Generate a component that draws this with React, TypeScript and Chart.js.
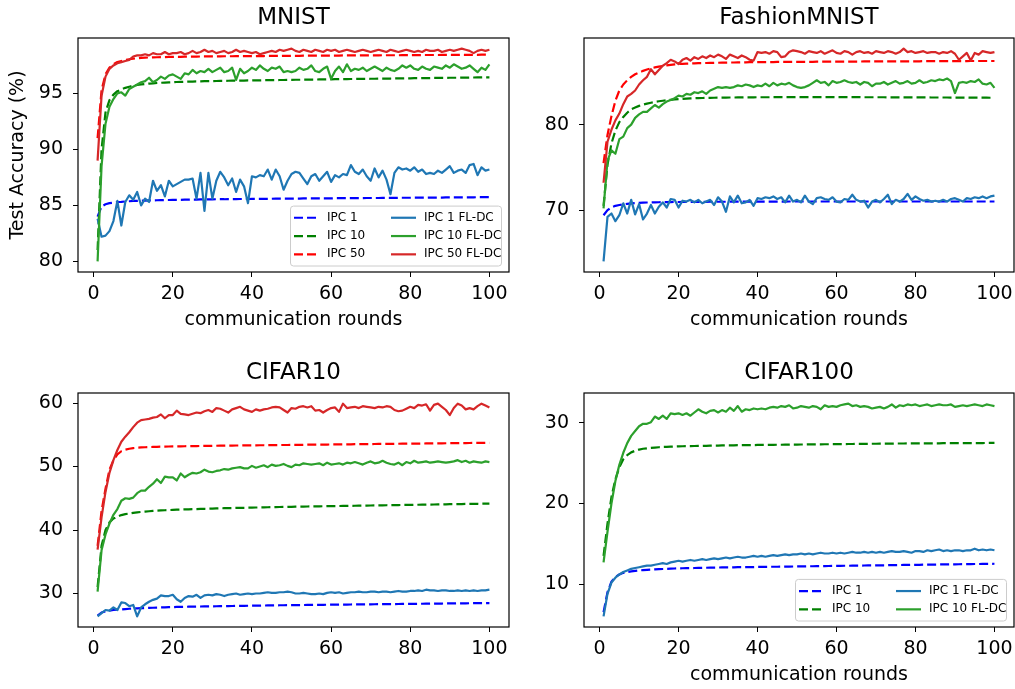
import React, { useEffect, useRef } from "react";
import { Chart, registerables } from "chart.js";

Chart.register(...registerables);

// ---------------- data ----------------
const ROUNDS: number[] = Array.from({ length: 100 }, (_, i) => i + 1);
const X_TICKS = [0, 20, 40, 60, 80, 100];

const MNIST_Y_TICKS = [80, 85, 90, 95];
const FMNIST_Y_TICKS = [70, 80];
const CIFAR10_Y_TICKS = [30, 40, 50, 60];
const CIFAR100_Y_TICKS = [10, 20, 30];

const LABEL_IPC1 = "IPC 1";
const LABEL_IPC10 = "IPC 10";
const LABEL_IPC50 = "IPC 50";
const LABEL_FL1 = "IPC 1 FL-DC";
const LABEL_FL10 = "IPC 10 FL-DC";
const LABEL_FL50 = "IPC 50 FL-DC";

// MNIST
const MNIST_IPC1 = [
  84.0, 84.9, 85.1, 85.2, 85.25, 85.3, 85.32, 85.35, 85.37, 85.4,
  85.4, 85.42, 85.43, 85.44, 85.45, 85.46, 85.47, 85.48, 85.48, 85.49,
  85.5, 85.5, 85.51, 85.51, 85.52, 85.52, 85.53, 85.53, 85.54, 85.54,
  85.55, 85.55, 85.55, 85.56, 85.56, 85.56, 85.57, 85.57, 85.57, 85.58,
  85.58, 85.58, 85.59, 85.59, 85.59, 85.6, 85.6, 85.6, 85.6, 85.61,
  85.61, 85.61, 85.62, 85.62, 85.62, 85.62, 85.63, 85.63, 85.63, 85.63,
  85.64, 85.64, 85.64, 85.64, 85.65, 85.65, 85.65, 85.65, 85.66, 85.66,
  85.66, 85.66, 85.67, 85.67, 85.67, 85.67, 85.68, 85.68, 85.68, 85.68,
  85.69, 85.69, 85.69, 85.69, 85.7, 85.7, 85.7, 85.7, 85.71, 85.71,
  85.71, 85.71, 85.72, 85.72, 85.72, 85.72, 85.73, 85.73, 85.73, 85.73,
];
const MNIST_IPC10 = [
  81.0, 90.0, 93.3, 94.4, 94.9, 95.2, 95.35, 95.5, 95.6, 95.68,
  95.75, 95.8, 95.84, 95.88, 95.9, 95.93, 95.95, 95.97, 95.99, 96.0,
  96.02, 96.03, 96.04, 96.05, 96.06, 96.07, 96.08, 96.09, 96.1, 96.1,
  96.11, 96.12, 96.12, 96.13, 96.14, 96.14, 96.15, 96.15, 96.16, 96.16,
  96.17, 96.17, 96.18, 96.18, 96.19, 96.19, 96.2, 96.2, 96.21, 96.21,
  96.22, 96.22, 96.23, 96.23, 96.24, 96.24, 96.25, 96.25, 96.26, 96.26,
  96.27, 96.27, 96.28, 96.28, 96.29, 96.29, 96.3, 96.3, 96.3, 96.31,
  96.31, 96.32, 96.32, 96.33, 96.33, 96.34, 96.34, 96.34, 96.35, 96.35,
  96.36, 96.36, 96.37, 96.37, 96.37, 96.38, 96.38, 96.39, 96.39, 96.4,
  96.4, 96.4, 96.41, 96.41, 96.42, 96.42, 96.43, 96.43, 96.44, 96.44,
];
const MNIST_IPC50 = [
  91.0, 95.3, 96.7, 97.3, 97.6, 97.8, 97.9, 98.0, 98.05, 98.1,
  98.14, 98.17, 98.2, 98.21, 98.22, 98.23, 98.24, 98.25, 98.26, 98.26,
  98.27, 98.27, 98.28, 98.28, 98.29, 98.29, 98.3, 98.3, 98.3, 98.31,
  98.31, 98.31, 98.32, 98.32, 98.32, 98.33, 98.33, 98.33, 98.33, 98.34,
  98.34, 98.34, 98.34, 98.35, 98.35, 98.35, 98.35, 98.36, 98.36, 98.36,
  98.36, 98.36, 98.37, 98.37, 98.37, 98.37, 98.37, 98.38, 98.38, 98.38,
  98.38, 98.38, 98.39, 98.39, 98.39, 98.39, 98.39, 98.4, 98.4, 98.4,
  98.4, 98.4, 98.41, 98.41, 98.41, 98.41, 98.41, 98.42, 98.42, 98.42,
  98.42, 98.42, 98.43, 98.43, 98.43, 98.43, 98.43, 98.44, 98.44, 98.44,
  98.44, 98.44, 98.45, 98.45, 98.45, 98.45, 98.45, 98.46, 98.46, 98.46,
];
const MNIST_FL1 = [
  83.8, 82.2, 82.3, 82.7, 83.6, 85.4, 83.2, 85.3, 85.9, 85.5,
  86.2, 85.0, 85.6, 85.3, 87.2, 86.3, 86.8, 85.8, 87.2, 86.7,
  86.9, 87.1, 87.3, 87.3, 87.4, 85.6, 87.9, 84.5, 87.9, 85.6,
  87.2, 88.0, 87.5, 86.8, 87.4, 86.2, 87.3, 86.7, 85.2, 87.6,
  87.5, 87.7, 87.6, 88.2, 87.3, 88.2, 87.6, 86.4, 87.2, 87.8,
  88.0, 87.9, 87.4, 86.9, 87.6, 87.8, 87.2, 87.6, 88.0, 87.1,
  87.7, 87.5, 87.8, 87.7, 88.6, 88.0, 87.8, 88.2, 87.6, 87.2,
  88.3, 87.5, 88.1, 87.3, 86.0, 87.9, 88.4, 88.2, 88.3, 88.1,
  88.4, 88.0, 88.2, 87.8, 87.9, 87.8, 88.1, 87.9, 88.2, 88.5,
  87.9, 88.1, 88.2, 87.9, 88.6, 88.7, 87.7, 88.4, 88.1, 88.2,
];
const MNIST_FL10 = [
  80.0, 88.5, 92.3, 93.8, 94.5, 95.0, 95.1, 94.8, 95.4, 95.6,
  95.8, 96.0, 96.1, 96.4, 96.0, 96.2, 96.5, 96.3, 96.6, 96.7,
  96.5, 96.3, 96.8, 96.7, 97.1, 96.8, 97.0, 96.9, 97.2, 96.9,
  97.1, 97.3, 96.9, 97.0, 97.3, 96.2, 97.2, 96.8, 97.0, 97.3,
  97.1, 97.5, 97.2, 97.0, 97.3, 97.2, 97.4, 96.9, 97.0, 96.9,
  97.0, 97.3, 97.1, 97.2, 97.5, 97.0, 96.9, 97.2, 97.4, 96.3,
  97.0, 97.4, 96.9, 97.6, 97.0, 97.2, 97.1, 97.3, 97.0, 97.2,
  97.4, 97.2, 97.0, 97.3, 97.1, 97.0, 97.2, 97.5, 97.3, 97.5,
  97.2, 97.1, 97.4, 97.2, 97.1, 97.4, 97.3, 97.2, 97.5, 97.3,
  97.6, 97.4, 97.2, 97.3, 97.5, 97.2, 96.9, 97.3, 97.1, 97.6,
];
const MNIST_FL50 = [
  89.0, 94.8, 96.5, 97.2, 97.5, 97.7, 97.8, 97.9, 98.0, 98.3,
  98.4, 98.4, 98.5, 98.4, 98.6, 98.5, 98.5, 98.7, 98.5, 98.6,
  98.6, 98.7, 98.5, 98.6, 98.8, 98.6, 98.7, 98.9, 98.7, 98.8,
  98.6, 98.7, 98.8, 98.6, 98.7, 98.9, 98.7, 98.8, 98.7, 98.6,
  98.7, 98.5, 98.6, 98.7, 98.8, 98.7, 98.9, 98.8, 98.9, 99.0,
  98.8, 98.7, 98.9, 98.8, 98.7, 98.9, 98.8, 98.7, 98.9, 98.8,
  98.9, 98.7, 98.8, 98.9, 98.8, 98.7, 98.8, 98.9, 98.8, 98.7,
  98.8, 98.9, 98.8, 98.7, 98.9, 98.8, 98.7, 98.8, 98.9, 98.8,
  98.7, 98.8, 98.7, 98.9, 98.8, 98.8, 98.9, 98.7, 98.8, 98.9,
  98.8, 98.9, 99.0, 98.9, 98.8, 98.6, 98.8, 98.9, 98.8, 98.9,
];

// FashionMNIST
const FMNIST_IPC1 = [
  69.4, 70.0, 70.3, 70.5, 70.6, 70.68, 70.74, 70.78, 70.82, 70.85,
  70.87, 70.89, 70.9, 70.91, 70.92, 70.93, 70.94, 70.94, 70.95, 70.95,
  70.96, 70.96, 70.96, 70.97, 70.97, 70.97, 70.97, 70.98, 70.98, 70.98,
  70.98, 70.98, 70.99, 70.99, 70.99, 70.99, 70.99, 71.0, 71.0, 71.0,
  71.0, 71.0, 71.0, 71.0, 71.0, 71.0, 71.0, 71.01, 71.01, 71.01,
  71.01, 71.01, 71.01, 71.01, 71.01, 71.01, 71.01, 71.01, 71.01, 71.01,
  71.01, 71.01, 71.01, 71.01, 71.01, 71.01, 71.01, 71.01, 71.01, 71.01,
  71.01, 71.01, 71.01, 71.01, 71.01, 71.01, 71.01, 71.01, 71.01, 71.01,
  71.01, 71.01, 71.01, 71.01, 71.01, 71.01, 71.01, 71.01, 71.01, 71.01,
  71.01, 71.01, 71.01, 71.01, 71.01, 71.01, 71.01, 71.01, 71.01, 71.01,
];
const FMNIST_IPC10 = [
  70.5, 75.3, 77.8, 79.3, 80.3, 80.9, 81.4, 81.8, 82.0, 82.2,
  82.35, 82.47, 82.57, 82.66, 82.74, 82.8, 82.86, 82.91, 82.95, 82.99,
  83.02, 83.05, 83.07, 83.09, 83.11, 83.12, 83.13, 83.14, 83.15, 83.16,
  83.17, 83.17, 83.18, 83.18, 83.19, 83.19, 83.2, 83.2, 83.2, 83.21,
  83.21, 83.21, 83.21, 83.22, 83.22, 83.22, 83.22, 83.22, 83.22, 83.23,
  83.23, 83.23, 83.23, 83.23, 83.23, 83.23, 83.23, 83.23, 83.23, 83.22,
  83.22, 83.22, 83.22, 83.22, 83.22, 83.22, 83.21, 83.21, 83.21, 83.21,
  83.21, 83.21, 83.2, 83.2, 83.2, 83.2, 83.2, 83.2, 83.19, 83.19,
  83.19, 83.19, 83.19, 83.18, 83.18, 83.18, 83.18, 83.18, 83.17, 83.17,
  83.17, 83.17, 83.17, 83.16, 83.16, 83.16, 83.16, 83.16, 83.15, 83.15,
];
const FMNIST_IPC50 = [
  75.5, 78.8, 81.0, 82.8, 84.0, 84.7, 85.2, 85.6, 85.9, 86.1,
  86.3, 86.45, 86.6, 86.7, 86.8, 86.88, 86.95, 87.0, 87.05, 87.1,
  87.12, 87.14, 87.16, 87.18, 87.2, 87.21, 87.22, 87.23, 87.24, 87.25,
  87.26, 87.27, 87.28, 87.28, 87.29, 87.3, 87.3, 87.31, 87.31, 87.32,
  87.32, 87.33, 87.33, 87.33, 87.34, 87.34, 87.34, 87.35, 87.35, 87.35,
  87.36, 87.36, 87.36, 87.36, 87.37, 87.37, 87.37, 87.37, 87.38, 87.38,
  87.38, 87.38, 87.39, 87.39, 87.39, 87.39, 87.4, 87.4, 87.4, 87.4,
  87.4, 87.41, 87.41, 87.41, 87.41, 87.41, 87.42, 87.42, 87.42, 87.42,
  87.42, 87.43, 87.43, 87.43, 87.43, 87.43, 87.43, 87.44, 87.44, 87.44,
  87.44, 87.44, 87.44, 87.45, 87.45, 87.45, 87.45, 87.45, 87.45, 87.45,
];
const FMNIST_FL1 = [
  64.0, 69.2, 69.6, 68.7, 69.4, 70.8, 69.6, 71.2, 69.5, 70.7,
  68.9, 69.6, 70.6, 69.6, 70.4, 70.9, 70.3, 71.3, 71.2, 70.3,
  71.1, 71.0, 71.2, 70.9, 71.2, 70.8, 71.0, 71.2, 70.6, 71.5,
  71.0, 69.8, 71.6, 70.9, 71.7, 70.8, 70.9, 71.2, 70.5, 71.4,
  71.3, 71.5, 71.4, 71.6, 71.3, 71.5, 70.9, 71.7, 71.0, 71.2,
  70.9, 71.7, 71.0, 70.7, 71.4, 71.5, 71.3, 71.2, 71.5, 71.0,
  70.9, 71.3, 71.2, 71.8, 71.2, 71.0, 71.1, 70.3, 71.0, 71.2,
  70.9, 71.3, 71.8, 70.7, 71.2, 71.0, 71.3, 71.9, 71.2, 71.6,
  71.3, 71.1, 71.2, 71.0, 71.1, 71.0, 71.2, 71.0, 71.3, 71.4,
  71.2, 71.0, 71.4, 71.3, 71.5, 71.4, 71.6, 71.4, 71.6, 71.7,
];
const FMNIST_FL10 = [
  70.2, 75.8, 77.0, 76.6, 78.3, 78.6, 79.6, 80.0, 80.8, 81.2,
  81.5, 81.5, 81.9, 82.3, 82.0, 82.4, 82.7, 82.9, 83.1, 83.4,
  83.3, 83.6, 83.5, 83.8, 83.7, 83.9, 83.6, 84.0, 84.2, 84.4,
  84.3, 84.4, 84.3, 84.4, 84.6, 84.5, 84.7, 84.6, 84.4, 84.6,
  84.5, 84.8, 84.5, 84.9, 84.6, 84.8, 84.7, 84.9, 84.6, 84.4,
  84.3, 84.4, 84.6, 84.9, 85.2, 84.9, 85.0, 84.6, 85.1, 84.9,
  85.0, 85.2, 85.0, 84.9, 85.0, 84.7, 85.0, 84.9, 84.5, 84.8,
  84.8, 85.0, 84.7, 84.9, 85.1, 84.8, 84.9, 85.1, 84.8, 84.9,
  85.2, 84.9, 85.0, 85.2, 85.1, 85.3, 85.2, 85.4, 85.1, 83.7,
  84.9, 85.0, 84.9, 85.1, 85.0, 85.3, 84.8, 84.7, 84.9, 84.3,
];
const FMNIST_FL50 = [
  73.2, 78.0, 79.4, 80.5, 81.3, 82.4, 83.3, 83.6, 84.0, 84.7,
  85.2, 85.6, 86.5, 85.9, 86.4, 86.9, 87.2, 87.6, 87.4, 87.1,
  87.6, 87.8, 87.5, 87.9, 87.7, 88.0, 87.8, 88.1, 87.9, 88.2,
  88.0, 87.7, 88.2, 88.0, 87.8, 88.1, 87.9, 87.6, 87.5, 88.5,
  88.4, 88.5, 88.3, 88.6, 88.5, 87.9, 88.0, 88.5, 88.7, 88.6,
  88.5, 88.3, 88.6, 88.5, 88.4, 88.6, 88.3, 88.5, 88.7, 88.4,
  88.3, 88.6, 88.5, 88.2, 88.5, 88.6, 88.4, 88.5, 88.3, 88.6,
  88.5, 88.4, 88.6, 88.5, 88.3, 88.5, 88.9, 88.5, 88.6, 88.4,
  88.5, 88.6, 88.4, 88.5, 88.5, 88.3, 88.5, 88.4, 88.6, 88.3,
  87.6, 88.0, 88.4, 87.5, 88.4, 88.2, 88.6, 88.5, 88.4, 88.5,
];

// CIFAR10
const CIFAR10_IPC1 = [
  26.5, 27.0, 27.2, 27.3, 27.4, 27.45, 27.5, 27.55, 27.6, 27.63,
  27.66, 27.69, 27.72, 27.74, 27.76, 27.78, 27.8, 27.82, 27.84, 27.86,
  27.88, 27.9, 27.91, 27.92, 27.93, 27.94, 27.95, 27.96, 27.97, 27.98,
  27.99, 28.0, 28.01, 28.02, 28.03, 28.04, 28.05, 28.06, 28.07, 28.08,
  28.09, 28.1, 28.11, 28.12, 28.13, 28.14, 28.15, 28.15, 28.16, 28.17,
  28.18, 28.18, 28.19, 28.2, 28.2, 28.21, 28.22, 28.22, 28.23, 28.24,
  28.24, 28.25, 28.26, 28.26, 28.27, 28.28, 28.28, 28.29, 28.3, 28.3,
  28.31, 28.32, 28.32, 28.33, 28.34, 28.34, 28.35, 28.36, 28.36, 28.37,
  28.38, 28.38, 28.39, 28.4, 28.4, 28.41, 28.42, 28.42, 28.43, 28.44,
  28.44, 28.45, 28.46, 28.46, 28.47, 28.48, 28.48, 28.49, 28.5, 28.5,
];
const CIFAR10_IPC10 = [
  31.0, 37.5, 40.0, 41.2, 41.8, 42.1, 42.35, 42.5, 42.6, 42.7,
  42.78, 42.85, 42.9, 42.95, 43.0, 43.04, 43.08, 43.11, 43.14, 43.17,
  43.2, 43.22, 43.24, 43.26, 43.28, 43.3, 43.32, 43.34, 43.36, 43.38,
  43.4, 43.42, 43.43, 43.45, 43.46, 43.48, 43.49, 43.5, 43.52, 43.53,
  43.54, 43.56, 43.57, 43.58, 43.6, 43.61, 43.62, 43.63, 43.64, 43.65,
  43.67, 43.68, 43.69, 43.7, 43.71, 43.72, 43.73, 43.74, 43.75, 43.76,
  43.77, 43.78, 43.79, 43.8, 43.81, 43.82, 43.83, 43.84, 43.85, 43.86,
  43.87, 43.88, 43.89, 43.9, 43.91, 43.92, 43.93, 43.94, 43.95, 43.96,
  43.97, 43.98, 43.99, 44.0, 44.01, 44.02, 44.03, 44.04, 44.05, 44.06,
  44.07, 44.08, 44.09, 44.1, 44.11, 44.12, 44.13, 44.14, 44.15, 44.16,
];
const CIFAR10_IPC50 = [
  37.5, 43.0, 46.5, 49.5, 51.0, 51.9, 52.4, 52.65, 52.8, 52.9,
  52.96, 53.0, 53.03, 53.06, 53.08, 53.1, 53.12, 53.13, 53.15, 53.16,
  53.17, 53.18, 53.19, 53.2, 53.21, 53.22, 53.23, 53.24, 53.25, 53.26,
  53.27, 53.28, 53.28, 53.29, 53.3, 53.31, 53.31, 53.32, 53.33, 53.33,
  53.34, 53.35, 53.35, 53.36, 53.37, 53.37, 53.38, 53.39, 53.39, 53.4,
  53.41, 53.41, 53.42, 53.43, 53.43, 53.44, 53.45, 53.45, 53.46, 53.47,
  53.47, 53.48, 53.49, 53.49, 53.5, 53.51, 53.51, 53.52, 53.53, 53.53,
  53.54, 53.55, 53.55, 53.56, 53.57, 53.57, 53.58, 53.59, 53.59, 53.6,
  53.61, 53.61, 53.62, 53.63, 53.63, 53.64, 53.65, 53.65, 53.66, 53.67,
  53.67, 53.68, 53.69, 53.69, 53.7, 53.71, 53.71, 53.72, 53.73, 53.73,
];
const CIFAR10_FL1 = [
  26.4, 26.9, 27.4, 27.3, 27.8, 27.4, 28.6, 28.5, 28.0, 28.2,
  26.4, 27.8, 28.3, 28.7, 29.0, 29.2, 29.7, 29.6, 29.6, 29.8,
  29.1, 28.7, 29.3, 29.6, 29.5, 29.8, 29.3, 29.7, 29.8, 29.7,
  29.9, 29.8, 29.6, 29.8, 29.9, 30.0, 29.8, 29.9, 30.0, 29.9,
  30.0, 30.0, 30.1, 30.2, 30.1, 30.1, 30.2, 30.2, 30.3, 30.2,
  30.0, 30.0, 30.1, 30.0, 29.9, 29.9, 30.0, 29.9, 30.1, 30.2,
  30.1, 30.2, 30.0, 30.1, 30.2, 30.2, 30.3, 30.2, 30.2, 30.3,
  30.3, 30.2, 30.3, 30.3, 30.2, 30.3, 30.4, 30.3, 30.3, 30.4,
  30.4, 30.5, 30.4, 30.6, 30.5, 30.5, 30.4, 30.5, 30.5, 30.4,
  30.4, 30.5, 30.4, 30.5, 30.4, 30.5, 30.4, 30.5, 30.5, 30.6,
];
const CIFAR10_FL10 = [
  30.3, 36.8, 39.3, 41.0, 42.4, 43.3, 44.6, 45.0, 44.9, 45.1,
  45.8, 46.2, 46.2, 46.8, 47.3, 48.0, 47.4, 48.4, 48.3, 48.3,
  47.8, 48.9, 48.3, 48.7, 49.0, 48.9, 49.1, 49.5, 49.2, 49.1,
  49.3, 49.4, 49.6, 49.5, 49.7, 49.8, 49.9, 49.7, 49.7, 50.1,
  49.8, 50.0, 50.2, 49.9, 50.3, 50.1, 50.2, 50.4, 50.1, 49.9,
  50.3, 50.2, 50.5, 50.4, 50.3, 50.4, 50.5, 50.2, 50.6, 50.3,
  50.4, 50.5, 50.3, 50.6, 50.5, 50.7, 50.5, 50.3, 50.6, 50.8,
  50.5, 50.6, 50.9, 50.6, 50.4, 50.3, 50.6, 50.2, 50.7, 50.5,
  50.9, 50.6, 50.7, 50.8, 50.6, 50.7, 50.8, 50.7, 50.6, 50.7,
  50.8, 51.0, 50.7, 50.9, 50.6, 50.8, 50.7, 50.6, 50.8, 50.7,
];
const CIFAR10_FL50 = [
  36.9, 42.0, 46.0, 49.0, 51.0, 52.6, 53.9, 54.7, 55.4, 56.2,
  56.9, 57.3, 57.4, 57.5, 57.7, 57.8, 58.2, 57.6, 58.1, 58.1,
  58.8, 58.3, 58.2, 58.1, 58.3, 58.5, 58.4, 58.7, 58.9, 58.6,
  59.2, 59.1, 58.8, 58.5, 59.0, 59.2, 59.4, 59.0, 58.8, 58.6,
  59.0, 58.8, 59.0, 59.1, 59.3, 59.4, 59.3, 58.9, 58.5, 59.2,
  59.1, 59.4, 59.5, 59.3, 59.5, 58.8, 58.9, 58.5, 58.9, 59.2,
  59.3, 58.6, 59.9, 59.2, 59.3, 59.4, 59.2, 59.5, 59.4, 59.3,
  59.2, 59.4, 59.3, 59.5, 59.4, 58.9, 58.7, 58.8, 59.1, 59.4,
  59.2, 59.7, 59.6, 59.8, 58.8, 59.7, 59.9, 59.4, 58.9, 58.1,
  59.2, 59.9, 59.6, 59.0, 59.2, 59.0, 59.5, 59.9, 59.6, 59.3,
];

// CIFAR100
const CIFAR100_IPC1 = [
  6.5, 9.0, 10.3, 10.9, 11.2, 11.4, 11.5, 11.58, 11.64, 11.7,
  11.74, 11.78, 11.81, 11.84, 11.86, 11.88, 11.9, 11.92, 11.94, 11.96,
  11.97, 11.98, 11.99, 12.0, 12.01, 12.02, 12.03, 12.04, 12.05, 12.06,
  12.07, 12.08, 12.08, 12.09, 12.1, 12.1, 12.11, 12.12, 12.12, 12.13,
  12.14, 12.14, 12.15, 12.16, 12.16, 12.17, 12.18, 12.18, 12.19, 12.2,
  12.2, 12.21, 12.22, 12.22, 12.23, 12.24, 12.24, 12.25, 12.26, 12.26,
  12.27, 12.28, 12.28, 12.29, 12.3, 12.3, 12.31, 12.32, 12.32, 12.33,
  12.34, 12.34, 12.35, 12.36, 12.36, 12.37, 12.38, 12.38, 12.39, 12.4,
  12.4, 12.41, 12.42, 12.42, 12.43, 12.44, 12.44, 12.45, 12.46, 12.46,
  12.47, 12.48, 12.48, 12.49, 12.5, 12.5, 12.51, 12.52, 12.52, 12.53,
];
const CIFAR100_IPC10 = [
  13.5, 17.5, 20.8, 23.0, 24.5, 25.5, 26.0, 26.35, 26.55, 26.7,
  26.8, 26.86, 26.91, 26.95, 26.99, 27.02, 27.04, 27.06, 27.08, 27.1,
  27.11, 27.12, 27.13, 27.14, 27.15, 27.16, 27.17, 27.18, 27.19, 27.2,
  27.21, 27.22, 27.22, 27.23, 27.24, 27.24, 27.25, 27.26, 27.26, 27.27,
  27.28, 27.28, 27.29, 27.29, 27.3, 27.3, 27.31, 27.31, 27.32, 27.32,
  27.33, 27.33, 27.34, 27.34, 27.35, 27.35, 27.36, 27.36, 27.37, 27.37,
  27.38, 27.38, 27.39, 27.39, 27.4, 27.4, 27.41, 27.41, 27.42, 27.42,
  27.43, 27.43, 27.44, 27.44, 27.45, 27.45, 27.45, 27.46, 27.46, 27.46,
  27.47, 27.47, 27.47, 27.48, 27.48, 27.48, 27.49, 27.49, 27.49, 27.5,
  27.5, 27.5, 27.5, 27.51, 27.51, 27.51, 27.51, 27.52, 27.52, 27.52,
];
const CIFAR100_FL1 = [
  6.0, 8.8, 10.2, 10.8, 11.2, 11.5, 11.7, 11.9, 12.0, 12.1,
  12.2, 12.3, 12.3, 12.4, 12.5, 12.6, 12.5, 12.7, 12.8, 12.9,
  12.8, 12.9, 13.0, 12.9, 13.0, 13.1, 13.0, 13.1, 13.2, 13.1,
  13.2, 13.3, 13.2, 13.3, 13.4, 13.3, 13.3, 13.4, 13.5, 13.4,
  13.5, 13.4, 13.5, 13.6, 13.5, 13.6, 13.7, 13.6, 13.7, 13.7,
  13.8, 13.7, 13.8, 13.7, 13.8, 13.9, 13.8, 13.8, 13.9, 13.8,
  13.9, 13.8, 13.9, 14.0, 13.9, 13.9, 14.0, 13.9, 14.0, 13.9,
  14.0, 13.9, 14.0, 14.1, 14.0, 14.0, 14.1, 14.0, 13.9, 14.1,
  14.1, 14.0, 14.2, 14.1, 14.2, 14.3, 14.1, 14.2, 14.1, 14.2,
  14.2, 14.1, 14.2, 14.2, 14.4, 14.2, 14.3, 14.2, 14.3, 14.2,
];
const CIFAR100_FL10 = [
  12.7, 16.5, 20.0, 22.8, 24.8, 26.3, 27.5, 28.4, 29.0, 29.6,
  29.9, 29.9, 30.1, 30.8, 30.5, 30.9, 30.5, 31.2, 31.1, 31.2,
  31.0, 31.2, 30.9, 31.3, 31.7, 31.4, 31.2, 31.5, 31.6, 31.3,
  31.6, 31.4, 31.9, 31.5, 32.1, 31.4, 31.7, 31.6, 31.8, 31.7,
  31.8, 31.7, 31.9, 32.0, 31.9, 32.1, 32.0, 32.2, 31.8, 31.9,
  32.1, 32.0, 31.9, 32.1, 32.0, 31.7, 32.2, 32.0, 32.1, 32.0,
  32.2, 32.3, 32.4, 32.1, 32.2, 32.0, 32.1, 32.0, 31.8, 31.9,
  32.0, 31.8, 32.0, 32.3, 31.9, 32.2, 32.1, 32.3, 32.2, 32.3,
  32.1, 32.2, 32.3, 32.1, 32.2, 32.3, 32.2, 32.2, 32.3, 32.0,
  32.1, 32.2, 32.1, 32.2, 32.3, 32.2, 32.1, 32.3, 32.2, 32.1,
];

// ---------------- styling ----------------
const FONT = "'DejaVu Sans', 'Liberation Sans', sans-serif";
const C_IPC1 = "#0000ff";
const C_IPC10 = "#008000";
const C_IPC50 = "#ff0000";
const C_FL1 = "#1f77b4";
const C_FL10 = "#2ca02c";
const C_FL50 = "#d62728";
const LINE_W = 2.2;
const DASH = [9, 4];

type Series = { label: string; data: number[]; color: string; dashed: boolean; order: number };

type PanelCfg = {
  title: string;
  left: number;
  top: number;
  width: number;
  height: number;
  yAxisWidth: number;
  padRight: number;
  yTicks: number[];
  yTitle?: string;
  xTitle?: string;
  legendRows?: number;
  series: Series[];
};

const PANELS: PanelCfg[] = [
  {
    title: "MNIST",
    left: 0, top: 0, width: 512, height: 334, yAxisWidth: 78, padRight: 3,
    yTicks: MNIST_Y_TICKS,
    yTitle: "Test Accuracy (%)",
    xTitle: "communication rounds",
    legendRows: 3,
    series: [
      { label: LABEL_IPC1, data: MNIST_IPC1, color: C_IPC1, dashed: true, order: 6 },
      { label: LABEL_IPC10, data: MNIST_IPC10, color: C_IPC10, dashed: true, order: 5 },
      { label: LABEL_IPC50, data: MNIST_IPC50, color: C_IPC50, dashed: true, order: 4 },
      { label: LABEL_FL1, data: MNIST_FL1, color: C_FL1, dashed: false, order: 3 },
      { label: LABEL_FL10, data: MNIST_FL10, color: C_FL10, dashed: false, order: 2 },
      { label: LABEL_FL50, data: MNIST_FL50, color: C_FL50, dashed: false, order: 1 },
    ],
  },
  {
    title: "FashionMNIST",
    left: 512, top: 0, width: 503, height: 334, yAxisWidth: 72, padRight: 1,
    yTicks: FMNIST_Y_TICKS,
    xTitle: "communication rounds",
    series: [
      { label: LABEL_IPC1, data: FMNIST_IPC1, color: C_IPC1, dashed: true, order: 6 },
      { label: LABEL_IPC10, data: FMNIST_IPC10, color: C_IPC10, dashed: true, order: 5 },
      { label: LABEL_IPC50, data: FMNIST_IPC50, color: C_IPC50, dashed: true, order: 4 },
      { label: LABEL_FL1, data: FMNIST_FL1, color: C_FL1, dashed: false, order: 3 },
      { label: LABEL_FL10, data: FMNIST_FL10, color: C_FL10, dashed: false, order: 2 },
      { label: LABEL_FL50, data: FMNIST_FL50, color: C_FL50, dashed: false, order: 1 },
    ],
  },
  {
    title: "CIFAR10",
    left: 0, top: 355, width: 512, height: 334, yAxisWidth: 78, padRight: 3,
    yTicks: CIFAR10_Y_TICKS,
    series: [
      { label: LABEL_IPC1, data: CIFAR10_IPC1, color: C_IPC1, dashed: true, order: 6 },
      { label: LABEL_IPC10, data: CIFAR10_IPC10, color: C_IPC10, dashed: true, order: 5 },
      { label: LABEL_IPC50, data: CIFAR10_IPC50, color: C_IPC50, dashed: true, order: 4 },
      { label: LABEL_FL1, data: CIFAR10_FL1, color: C_FL1, dashed: false, order: 3 },
      { label: LABEL_FL10, data: CIFAR10_FL10, color: C_FL10, dashed: false, order: 2 },
      { label: LABEL_FL50, data: CIFAR10_FL50, color: C_FL50, dashed: false, order: 1 },
    ],
  },
  {
    title: "CIFAR100",
    left: 512, top: 355, width: 503, height: 334, yAxisWidth: 72, padRight: 1,
    yTicks: CIFAR100_Y_TICKS,
    xTitle: "communication rounds",
    legendRows: 2,
    series: [
      { label: LABEL_IPC1, data: CIFAR100_IPC1, color: C_IPC1, dashed: true, order: 4 },
      { label: LABEL_IPC10, data: CIFAR100_IPC10, color: C_IPC10, dashed: true, order: 3 },
      { label: LABEL_FL1, data: CIFAR100_FL1, color: C_FL1, dashed: false, order: 2 },
      { label: LABEL_FL10, data: CIFAR100_FL10, color: C_FL10, dashed: false, order: 1 },
    ],
  },
];

// ---------------- plugins ----------------
const framePlugin = {
  id: "frame",
  afterDatasetsDraw(chart: any) {
    const { ctx, chartArea } = chart;
    const { left, top, right, bottom } = chartArea;
    ctx.save();
    ctx.strokeStyle = "#000";
    ctx.lineWidth = 1.2;
    ctx.setLineDash([]);
    ctx.strokeRect(left, top, right - left, bottom - top);
    ctx.restore();
  },
};

const boxLegendPlugin = {
  id: "boxLegend",
  afterDatasetsDraw(chart: any, _args: any, opts: any) {
    if (!opts || !opts.rows) return;
    const { ctx, chartArea } = chart;
    const rows: number = opts.rows;
    const rowH = 18.3;
    const boxW = 211;
    const boxH = rows * rowH + 5;
    const right = chartArea.right - 7.5;
    const bottom = chartArea.bottom - 6;
    const left = right - boxW;
    const top = bottom - boxH;
    ctx.save();
    const r = 3;
    ctx.beginPath();
    ctx.moveTo(left + r, top);
    ctx.lineTo(right - r, top);
    ctx.quadraticCurveTo(right, top, right, top + r);
    ctx.lineTo(right, bottom - r);
    ctx.quadraticCurveTo(right, bottom, right - r, bottom);
    ctx.lineTo(left + r, bottom);
    ctx.quadraticCurveTo(left, bottom, left, bottom - r);
    ctx.lineTo(left, top + r);
    ctx.quadraticCurveTo(left, top, left + r, top);
    ctx.closePath();
    ctx.fillStyle = "rgba(255,255,255,0.8)";
    ctx.fill();
    ctx.strokeStyle = "#cccccc";
    ctx.lineWidth = 1;
    ctx.setLineDash([]);
    ctx.stroke();

    ctx.font = `12px ${FONT}`;
    ctx.textBaseline = "middle";
    ctx.textAlign = "left";
    chart.data.datasets.forEach((d: any, i: number) => {
      const col = Math.floor(i / rows);
      const row = i % rows;
      const hx = left + 3.5 + col * 97;
      const cy = top + 2.5 + rowH * (row + 0.5);
      ctx.strokeStyle = d.borderColor;
      ctx.lineWidth = d.borderWidth;
      ctx.setLineDash(d.borderDash || []);
      ctx.lineCap = "butt";
      ctx.beginPath();
      ctx.moveTo(hx, cy);
      ctx.lineTo(hx + 25, cy);
      ctx.stroke();
      ctx.setLineDash([]);
      ctx.fillStyle = "#000";
      ctx.fillText(d.label, hx + 33, cy);
    });
    ctx.restore();
  },
};

// ---------------- chart config ----------------
function buildConfig(p: PanelCfg): any {
  let lo = Infinity;
  let hi = -Infinity;
  p.series.forEach((s) => s.data.forEach((v) => { if (v < lo) lo = v; if (v > hi) hi = v; }));
  const yPad = (hi - lo) * 0.05;
  const xLo = ROUNDS[0];
  const xHi = ROUNDS[ROUNDS.length - 1];
  const xPad = (xHi - xLo) * 0.05;

  const tickFont = { family: FONT, size: 19 };
  const yTicks = p.yTicks;

  return {
    type: "line",
    data: {
      labels: ROUNDS,
      datasets: p.series.map((s) => ({
        label: s.label,
        data: s.data,
        borderColor: s.color,
        backgroundColor: s.color,
        borderWidth: LINE_W,
        borderDash: s.dashed ? DASH : [],
        borderCapStyle: "butt",
        borderJoinStyle: "round",
        pointRadius: 0,
        pointHoverRadius: 0,
        tension: 0,
        fill: false,
        order: s.order,
      })),
    },
    options: {
      responsive: false,
      maintainAspectRatio: false,
      animation: false,
      events: [],
      layout: { padding: { left: 0, right: p.padRight, top: 0, bottom: 0 } },
      plugins: {
        legend: { display: false },
        tooltip: { enabled: false },
        title: {
          display: true,
          text: p.title,
          color: "#000",
          fullSize: false,
          font: { family: FONT, size: 23, weight: "normal" },
          padding: { top: 4, bottom: 6.4 },
        },
        boxLegend: p.legendRows ? { rows: p.legendRows } : { rows: 0 },
      },
      scales: {
        x: {
          type: "linear",
          min: xLo - xPad,
          max: xHi + xPad,
          afterBuildTicks: (s: any) => { s.ticks = X_TICKS.map((v) => ({ value: v })); },
          afterFit: (s: any) => { s.height = 62; s.paddingLeft = 0; s.paddingRight = 0; },
          ticks: {
            color: "#000",
            font: tickFont,
            padding: 5.6,
            maxRotation: 0,
            autoSkip: false,
            callback: (v: any) => String(v),
          },
          grid: { display: true, drawOnChartArea: false, drawTicks: true, tickLength: 5, color: "#000", tickWidth: 1 },
          border: { display: false },
          title: {
            display: !!p.xTitle,
            text: p.xTitle || "",
            color: "#000",
            font: { family: FONT, size: 19 },
            padding: { top: 0, bottom: 2.6 },
          },
        },
        y: {
          type: "linear",
          min: lo - yPad,
          max: hi + yPad,
          afterBuildTicks: (s: any) => { s.ticks = yTicks.map((v) => ({ value: v })); },
          afterFit: (s: any) => { s.width = p.yAxisWidth; s.paddingTop = 0; s.paddingBottom = 0; },
          ticks: {
            color: "#000",
            font: tickFont,
            padding: 10,
            autoSkip: false,
            callback: (v: any) => String(v),
          },
          grid: { display: true, drawOnChartArea: false, drawTicks: true, tickLength: 5, color: "#000", tickWidth: 1 },
          border: { display: false },
          title: {
            display: !!p.yTitle,
            text: p.yTitle || "",
            color: "#000",
            font: { family: FONT, size: 19 },
            padding: { top: 7, bottom: 0 },
          },
        },
      },
    },
    plugins: [framePlugin, boxLegendPlugin],
  };
}

function Panel({ cfg }: { cfg: PanelCfg }) {
  const ref = useRef<HTMLCanvasElement | null>(null);
  useEffect(() => {
    if (!ref.current) return;
    const chart = new Chart(ref.current, buildConfig(cfg));
    return () => chart.destroy();
  }, [cfg]);
  return (
    <div style={{ position: "absolute", left: cfg.left, top: cfg.top, width: cfg.width, height: cfg.height }}>
      <canvas
        ref={ref}
        width={cfg.width}
        height={cfg.height}
        style={{ display: "block", width: cfg.width, height: cfg.height }}
      />
    </div>
  );
}

export default function App() {
  return (
    <div
      style={{
        position: "fixed",
        left: 0,
        top: 0,
        width: 1015,
        height: 689,
        background: "#ffffff",
        overflow: "hidden",
      }}
    >
      {PANELS.map((p) => (
        <Panel key={p.title} cfg={p} />
      ))}
    </div>
  );
}
